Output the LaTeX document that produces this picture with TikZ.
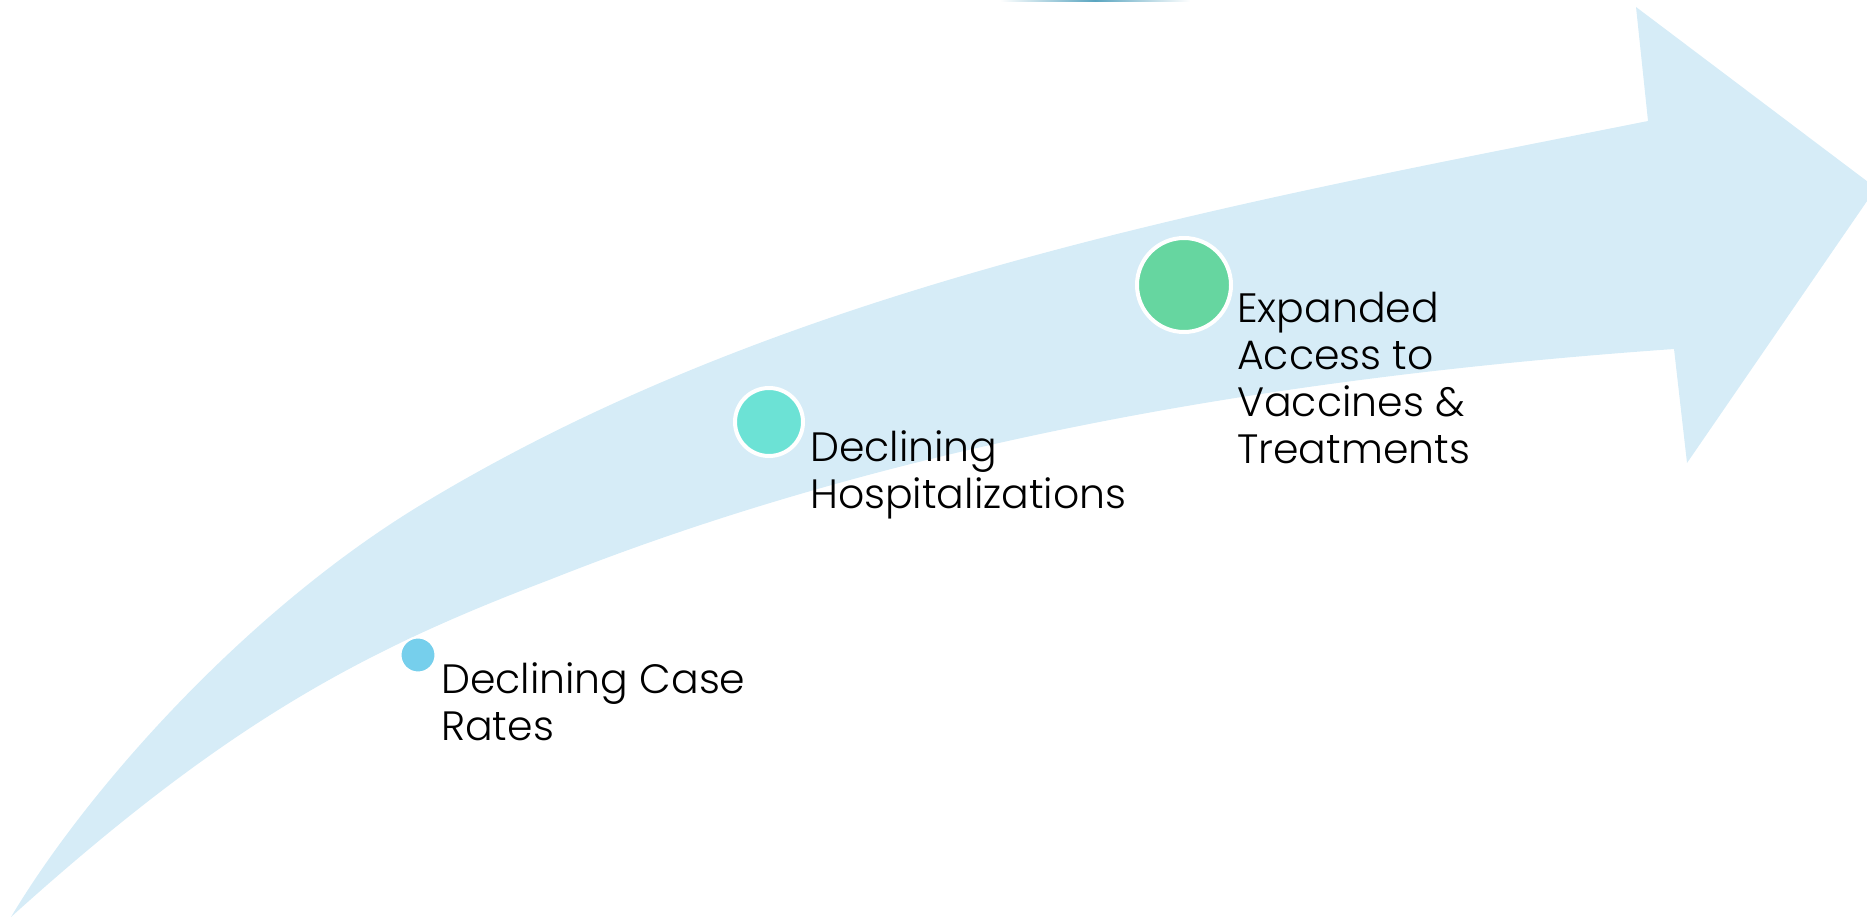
\documentclass[tikz,border=0pt]{standalone}
\usepackage{fontspec}
\IfFontExistsTF{Poppins Light}{\setmainfont{Poppins Light}}{\setmainfont{Poppins}}
\definecolor{bandblue}{RGB}{214,236,247}
\definecolor{dotblue}{RGB}{118,207,236}
\definecolor{dotteal}{RGB}{108,226,213}
\definecolor{dotgreen}{RGB}{102,214,160}
\definecolor{lineblue}{RGB}{90,165,192}
\tikzset{
  dot/.style={circle, draw=white, inner sep=0pt},
  label/.style={anchor=base west, align=left, inner sep=0pt, text=black,
    font=\fontsize{41}{47}\selectfont},
}
\begin{document}
\begin{tikzpicture}[x=1pt,y=-1pt]
\useasboundingbox (0,0) rectangle (1867,917);
\clip (0,0) rectangle (1867,917);
% thin line at top
\shade[left color=white, right color=white, middle color=lineblue] (1000,0) rectangle (1190,1.6);
% curved arrow
\fill[bandblue]
  (11,917) .. controls (88,788) and (250,606) .. (429,500)
  .. controls (793,282) and (1231,204) .. (1648,121)
  -- (1636,7) -- (1876,188) -- (1687,463) -- (1674,349)
  .. controls (1293,376) and (906,438) .. (549,580)
  .. controls (362,651) and (226,723) .. (11,917)
  -- cycle;
% dots
\node[dot, fill=dotblue, line width=2pt, minimum size=35pt] (d1) at (418,655) {};
\node[dot, fill=dotteal, line width=4pt, minimum size=68pt] (d2) at (769,422) {};
\node[dot, fill=dotgreen, line width=4pt, minimum size=94pt] (d3) at (1184,285) {};
% labels (anchor at baseline of last line)
\node[label] (t1) at (441,740) {Declining Case\\Rates};
\node[label] (t2) at (810,508) {Declining\\Hospitalizations};
\node[label] (t3) at (1237,463) {Expanded\\Access to\\Vaccines \&\\Treatments};
\end{tikzpicture}
\end{document}
